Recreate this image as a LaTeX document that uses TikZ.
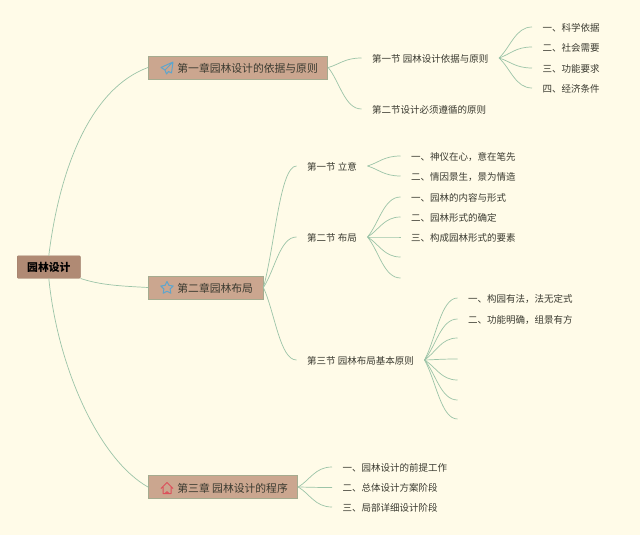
\documentclass[tikz,border=0pt]{standalone}
\usepackage{fontspec}
\setmainfont{Noto Sans CJK SC}
\usetikzlibrary{shapes.geometric, calc}
\definecolor{pagebg}{HTML}{FFFBE8}
\definecolor{rootfill}{HTML}{B08A74}
\definecolor{chapfill}{HTML}{CBA68F}
\definecolor{boxline}{HTML}{A5AB8F}
\definecolor{branchline}{HTML}{9CC4A8}
\definecolor{inktext}{HTML}{3A3A30}
\definecolor{iconblue}{HTML}{5FA5CC}
\definecolor{iconred}{HTML}{DC4F5A}
\tikzset{
	rootbox/.style={draw=rootfill!90!black, fill=rootfill, rounded corners=1pt, anchor=west, minimum height=22.5pt, inner xsep=10pt, font=\fontsize{10.8pt}{12pt}\selectfont\bfseries, text=black},
	chapbox/.style={draw=boxline, line width=.8pt, fill=chapfill, anchor=west, minimum height=23pt, inner xsep=10pt, text height=11.5pt, text depth=1.5pt, font=\fontsize{10.8pt}{12pt}\selectfont, text=inktext},
	leaf/.style={anchor=west, inner xsep=10.5pt, inner ysep=1pt, text height=10pt, text depth=1.2pt, font=\fontsize{9.5pt}{11pt}\selectfont, text=inktext},
	branch/.style={draw=branchline, line width=.7pt},
	icon/.style={draw=iconblue, line width=1pt, line join=round}
}
\newcommand{\twig}[2]{
	\coordinate (twigmid) at ($(#1)!.5!(#2)$);
	\draw[branch] (#1) .. controls ($(#1)!.35!(#2)$) and (twigmid |- #2) .. (#2);
}
\begin{document}
\begin{tikzpicture}[x=1pt, y=-1pt]
	\useasboundingbox (0, 0) rectangle (640, 535);
	\fill[pagebg] (0, 0) rectangle (640, 535);

	\node[rootbox] (root) at (17, 267) {园林设计};
	\node[chapbox] (chapa) at (148, 67.5) {\hspace*{19pt}第一章园林设计的依据与原则};
	\node[chapbox] (chapb) at (148, 287.5) {\hspace*{19pt}第二章园林布局};
	\node[chapbox] (chapc) at (148, 487) {\hspace*{19pt}第三章 园林设计的程序};

	\draw[branch] (root.north) .. controls (60, 165) and (92, 88) .. (chapa.west);
	\draw[branch] (root.south east) .. controls (100, 285) and (120, 286) .. (chapb.west);
	\draw[branch] (root.south) .. controls (58, 370) and (100, 460) .. (chapc.west);

	% sections
	\node[leaf] (sa) at (361.5, 58) {第一节 园林设计依据与原则};
	\node[leaf] (sb) at (361.5, 109) {第二节设计必须遵循的原则};
	\node[leaf] (sc) at (296.5, 166) {第一节 立意};
	\node[leaf] (sd) at (296.5, 237) {第二节 布局};
	\node[leaf] (se) at (296.5, 360) {第三节 园林布局基本原则};
	\foreach \s in {sa, sb} {
		\twig{chapa.east}{\s.west}
	}
	\foreach \s in {sc, sd, se} {
		\twig{chapb.east}{\s.west}
	}

	% items
	\foreach \y/\t [count=\i] in {27/一、科学依据, 47/二、社会需要, 68/三、功能要求, 88/四、经济条件} {
		\node[leaf] (aitem\i) at (532, \y) {\t};
		\twig{sa.east}{aitem\i.west}
	}
	\foreach \y/\t [count=\i] in {156/一、神仪在心，意在笔先, 176/二、情因景生，景为情造} {
		\node[leaf] (citem\i) at (400.5, \y) {\t};
		\twig{sc.east}{citem\i.west}
	}
	\foreach \y/\t [count=\i] in {197/一、园林的内容与形式, 217/二、园林形式的确定, 237/三、构成园林形式的要素} {
		\node[leaf] (ditem\i) at (400.5, \y) {\t};
		\twig{sd.east}{ditem\i.west}
	}
	\foreach \y/\t [count=\i] in {298/一、构园有法，法无定式, 319/二、功能明确，组景有方} {
		\node[leaf] (eitem\i) at (457.5, \y) {\t};
		\twig{se.east}{eitem\i.west}
	}
	\foreach \y/\t [count=\i] in {467/一、园林设计的前提工作, 487.5/二、总体设计方案阶段, 507/三、局部详细设计阶段} {
		\node[leaf] (fitem\i) at (332, \y) {\t};
		\twig{chapc.east}{fitem\i.west}
	}

	% branches with nothing at the end
	\foreach \y [count=\i] in {257, 278} {
		\coordinate (dfree\i) at (400.5, \y);
		\twig{sd.east}{dfree\i}
	}
	\foreach \y [count=\i] in {338, 359, 380, 400, 419} {
		\coordinate (efree\i) at (457.5, \y);
		\twig{se.east}{efree\i}
	}

	% icons
	\draw[icon] (173, 62) -- (161, 67.5) -- (165, 70) -- (166.5, 74) -- (168.5, 71.5) -- (171.5, 73) -- cycle (165, 70) -- (173, 62);
	\node[icon, star, star points=5, star point ratio=2, minimum size=13pt, inner sep=0pt] (staricon) at (167, 288) {};
	\draw[icon, draw=iconred] (161, 488.5) -- (167, 482.5) -- (173, 488.5) (163, 487) -- (163, 493.5) -- (171, 493.5) -- (171, 487) (165.2, 493.5) arc[start angle=180, end angle=360, radius=1.8];
\end{tikzpicture}
\end{document}
